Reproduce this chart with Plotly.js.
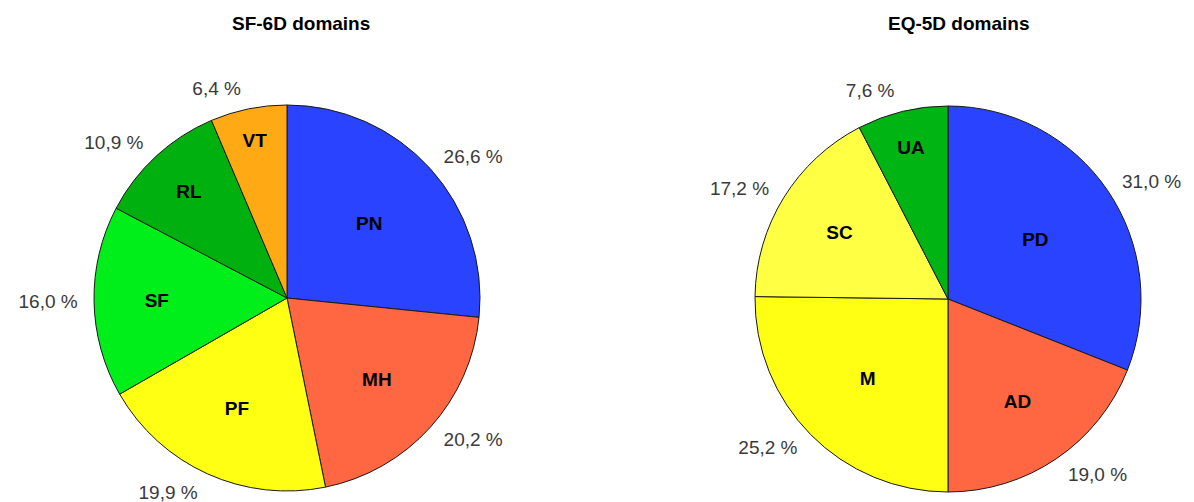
<!DOCTYPE html>
<html>
<head>
<meta charset="utf-8">
<script src="https://cdn.plot.ly/plotly-3.0.1.min.js"></script>
<style>html,body{margin:0;padding:0;background:#fff;overflow:hidden;width:1194px;height:502px;}#chart{width:1194px;height:540px;}</style>
</head>
<body>
<div id="chart"></div>
<script>
// SF-6D domains
var sfLabels = ['PN', 'MH', 'PF', 'SF', 'RL', 'VT'];
var sfValues = [26.6, 20.2, 19.9, 16.0, 10.9, 6.4];
var sfColors = ['#2a43ff', '#ff6642', '#ffff14', '#00ee1a', '#00b00e', '#ffaa14'];

// EQ-5D domains
var eqLabels = ['PD', 'AD', 'M', 'SC', 'UA'];
var eqValues = [31.0, 19.0, 25.2, 17.2, 7.6];
var eqColors = ['#2a43ff', '#ff6642', '#ffff14', '#ffff44', '#00b414'];

var titles = ['SF-6D domains', 'EQ-5D domains'];

function pct(v) { return v.toFixed(1).replace('.', ',') + ' %'; }

var W = 1194, H = 540;
var FONT = 'Liberation Sans, Arial, sans-serif';
function dom(cx, cy, r) {
  return {x: [(cx - r) / W, (cx + r) / W], y: [(H - cy - r) / H, (H - cy + r) / H]};
}
var R = 193, RO = 204;

function inner(labels, values, colors, d) {
  return {
    type: 'pie', labels: labels, values: values, sort: false,
    direction: 'clockwise', rotation: 0, domain: d,
    marker: {colors: colors, line: {color: '#1a1a1a', width: 1}},
    textinfo: 'label', textposition: 'inside', insidetextorientation: 'horizontal',
    insidetextfont: {family: FONT, size: 19, color: '#000', weight: 'bold'},
    hoverinfo: 'label+value', showlegend: false
  };
}
function outer(labels, values, d) {
  return {
    type: 'pie', labels: labels, values: values, sort: false,
    direction: 'clockwise', rotation: 0, domain: d,
    marker: {colors: labels.map(function () { return 'rgba(0,0,0,0)'; }), line: {width: 0}},
    text: values.map(pct), textinfo: 'text', textposition: 'outside',
    outsidetextfont: {family: FONT, size: 19, color: '#3a3a3a'},
    hoverinfo: 'skip', showlegend: false
  };
}

var data = [
  inner(sfLabels, sfValues, sfColors, dom(287, 298, R)),
  outer(sfLabels, sfValues, dom(287, 298, RO)),
  inner(eqLabels, eqValues, eqColors, dom(948, 299, R)),
  outer(eqLabels, eqValues, dom(948, 299, RO))
];

var layout = {
  width: W, height: H,
  margin: {l: 0, r: 0, t: 0, b: 0},
  paper_bgcolor: '#fff',
  showlegend: false,
  annotations: [
    {text: '<b>' + titles[0] + '</b>', x: 301 / W, y: 1 - 23 / H, xref: 'paper', yref: 'paper',
     showarrow: false, xanchor: 'center', yanchor: 'middle',
     font: {family: FONT, size: 19, color: '#000'}},
    {text: '<b>' + titles[1] + '</b>', x: 958 / W, y: 1 - 23 / H, xref: 'paper', yref: 'paper',
     showarrow: false, xanchor: 'center', yanchor: 'middle',
     font: {family: FONT, size: 19, color: '#000'}}
  ]
};

Plotly.newPlot('chart', data, layout, {displayModeBar: false, staticPlot: true});
</script>
</body>
</html>
